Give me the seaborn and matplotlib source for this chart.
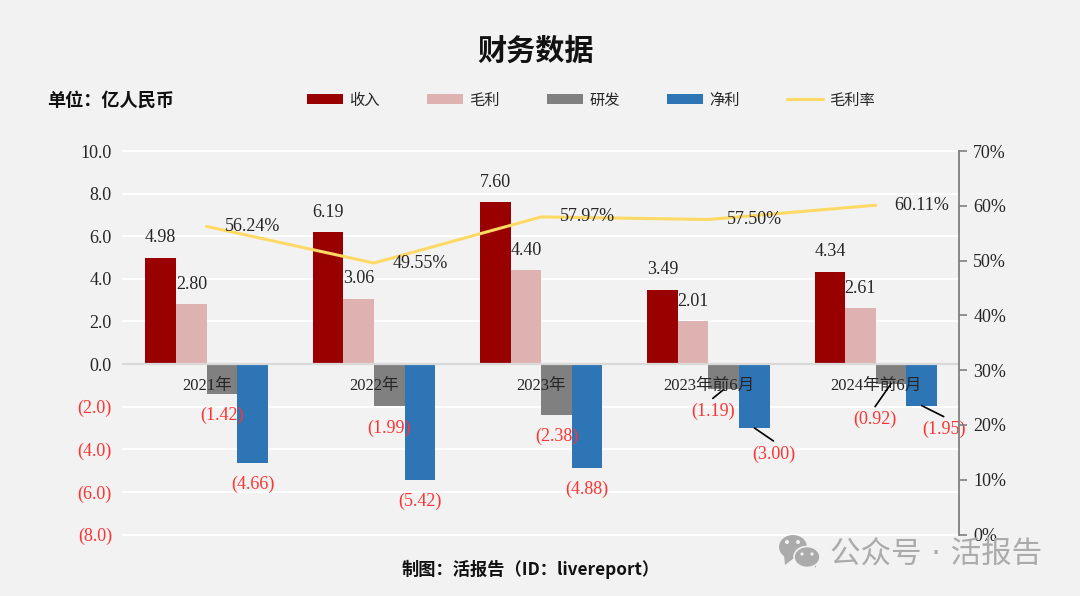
import matplotlib
matplotlib.use('Agg')
import matplotlib.pyplot as plt
from matplotlib.lines import Line2D
from matplotlib.patches import Ellipse, Patch, Polygon
from matplotlib.ticker import FuncFormatter, PercentFormatter
import pandas as pd
import seaborn as sns

# Data
periods = ['2021年', '2022年', '2023年', '2023年前6月', '2024年前6月']
series_names = ['收入', '毛利', '研发', '净利']
revenue = [4.98, 6.19, 7.60, 3.49, 4.34]
gross_profit = [2.80, 3.06, 4.40, 2.01, 2.61]
rnd = [-1.42, -1.99, -2.38, -1.19, -0.92]
net_profit = [-4.66, -5.42, -4.88, -3.00, -1.95]
gross_margin = [56.24, 49.55, 57.97, 57.50, 60.11]
left_ticks = [-8, -6, -4, -2, 0, 2, 4, 6, 8, 10]
right_ticks = [0, 10, 20, 30, 40, 50, 60, 70]

# Style
BG = '#f2f2f2'
bar_colors = ['#990000', '#dfb2b2', '#808080', '#2e75b6']
LINE_COLOR = '#ffd966'
RED = '#ff3333'
TEXT = '#262626'
SERIF = ['Liberation Serif', 'Noto Sans CJK SC', 'DejaVu Sans']
SANS = ['Noto Sans CJK SC', 'DejaVu Sans']
PX = 0.72  # points per pixel at dpi 100

sns.set_theme(style='white')
plt.rcParams['font.family'] = SERIF
plt.rcParams['text.color'] = TEXT

df = pd.DataFrame({
    'period': periods * 4,
    'series': [s for s in series_names for _ in periods],
    'value': revenue + gross_profit + rnd + net_profit,
})

fig = plt.figure(figsize=(10.8, 5.96), dpi=100, facecolor=BG)
ax = fig.add_axes([123 / 1080, 1 - 534.5 / 596, (959.4 - 123) / 1080, (534.5 - 151) / 596])
ax.set_facecolor(BG)

# white grid stays behind the bars, category labels stay above them
for t in left_ticks:
    if t != 0:
        ax.axhline(t, color='white', lw=1.5, zorder=0, clip_on=False)

sns.barplot(data=df, x='period', y='value', hue='series', hue_order=series_names,
            order=periods, palette=bar_colors, saturation=1, width=0.732, gap=0,
            edgecolor='none', linewidth=0, legend=False, ax=ax, zorder=1)
ax.set_axisbelow(False)
ax.set_xlim(-0.5, 4.5)
ax.set_ylim(-8, 10)
ax.set_xlabel('')
ax.set_ylabel('')

ax.set_yticks(left_ticks)
ax.yaxis.set_major_formatter(FuncFormatter(lambda v, _: f'{v:.1f}' if v >= 0 else f'({-v:.1f})'))
ax.tick_params(axis='y', length=0, pad=8, labelsize=13, labelcolor=TEXT)
for lab, t in zip(ax.get_yticklabels(), left_ticks):
    if t < 0:
        lab.set_color(RED)
ax.tick_params(axis='x', length=0, pad=10, labelsize=12, labelcolor=TEXT)

for side in ['top', 'left', 'right']:
    ax.spines[side].set_visible(False)
ax.spines['bottom'].set_position(('data', 0))
ax.spines['bottom'].set_color('#d9d9d9')
ax.spines['bottom'].set_linewidth(1.6)

# bar labels, offsets in pixels from the bar end
neg_offsets = {(3, 2): (-11, -22), (3, 3): (19.5, -26), (4, 2): (-16, -36), (4, 3): (22, -24)}
leaders = {(3, 2): (-11, -9), (3, 3): (19, -13), (4, 2): (-16, -23), (4, 3): (22, -11)}

for s_idx, container in enumerate(ax.containers):
    for p_idx, bar in enumerate(container):
        if s_idx < 2:
            val = revenue[p_idx] if s_idx == 0 else gross_profit[p_idx]
            txt, col, off = f'{val:.2f}', TEXT, (0, 20)
        else:
            val = rnd[p_idx] if s_idx == 2 else net_profit[p_idx]
            txt, col = f'({-val:.2f})', RED
            off = neg_offsets.get((p_idx, s_idx), (0, -21.5))
        xc = bar.get_x() + bar.get_width() / 2
        ax.annotate(txt, (xc, val), xytext=(off[0] * PX, off[1] * PX), textcoords='offset points',
                    ha='center', va='center', fontsize=13, color=col, zorder=6)
        if (p_idx, s_idx) in leaders:
            b = leaders[(p_idx, s_idx)]
            ax.annotate('', (xc, val), xytext=(b[0] * PX, b[1] * PX), textcoords='offset points',
                        arrowprops=dict(arrowstyle='-', color='black', lw=1.2,
                                        shrinkA=0, shrinkB=0), zorder=6)

# margin line on right axis
ax2 = ax.twinx()
ax2.set_facecolor('none')
sns.lineplot(x=periods, y=gross_margin, color=LINE_COLOR, lw=2.2, sort=False, ax=ax2, zorder=3)
ax2.set_xlim(-0.5, 4.5)
ax2.set_ylim(0, 70)
ax2.set_yticks(right_ticks)
ax2.yaxis.set_major_formatter(PercentFormatter(decimals=0))
ax2.tick_params(axis='y', length=6, width=1.2, color='#7f7f7f', pad=4, labelsize=13, labelcolor=TEXT)
ax2.set_ylabel('')
for side in ['top', 'left', 'bottom']:
    ax2.spines[side].set_visible(False)
ax2.spines['right'].set_color('#7f7f7f')
ax2.spines['right'].set_linewidth(1.3)
for i, m in enumerate(gross_margin):
    ax2.annotate(f'{m:.2f}%', (i, m), xytext=(46 * PX, 0), textcoords='offset points',
                 ha='center', va='center', fontsize=13, color=TEXT)

# legend
handles = [Patch(facecolor=c, edgecolor='none', label=n) for c, n in zip(bar_colors, series_names)]
handles.append(Line2D([0], [0], color=LINE_COLOR, lw=2.2, label='毛利率'))
fig.legend(handles=handles, ncol=5, loc='center', bbox_to_anchor=(591 / 1080, 1 - 100 / 596),
           frameon=False, prop={'family': SANS, 'size': 11}, labelcolor=TEXT,
           handlelength=2.35, handleheight=0.65, handletextpad=0.4, columnspacing=3.1)

# titles and notes
fig.text(536 / 1080, 1 - 51 / 596, '财务数据', family=SANS, fontsize=21, fontweight='bold',
         color='#111111', ha='center', va='center')
fig.text(47.5 / 1080, 1 - 100 / 596, '单位：亿人民币', family=SANS, fontsize=13.1, fontweight='bold',
         color='#111111', ha='left', va='center')
fig.text(531 / 1080, 1 - 569 / 596, '制图：活报告（ID：livereport）', family=SANS, fontsize=12.4,
         fontweight='bold', color='#111111', ha='center', va='center')

# watermark
WM = '#ababab'
fig.text(830 / 1080, 1 - 554 / 596, '公众号 · 活报告', family=['DejaVu Sans', 'Noto Sans CJK SC'],
         fontsize=22, color=WM, ha='left', va='center')


def px(x, y):
    return (x / 1080, 1 - y / 596)


fig.add_artist(Polygon([px(784, 555), px(785, 565), px(794, 558)], closed=True, facecolor=WM,
                       edgecolor='none', transform=fig.transFigure))
fig.add_artist(Ellipse(px(793, 547), 28 / 1080, 24 / 596, facecolor=WM, edgecolor='none'))
fig.add_artist(Polygon([px(811, 562), px(816, 568), px(816, 560)], closed=True, facecolor=WM,
                       edgecolor='none', transform=fig.transFigure))
fig.add_artist(Ellipse(px(807, 557), 26 / 1080, 21 / 596, facecolor=WM, edgecolor=BG, lw=1.2))
for ex, ey, r in [(787, 542, 4), (798, 542, 4), (802, 554, 3.2), (812, 554, 3.2)]:
    fig.add_artist(Ellipse(px(ex, ey), r / 1080, r / 596, facecolor=BG, edgecolor='none'))

fig.savefig('out.png', dpi=100, facecolor=BG)
